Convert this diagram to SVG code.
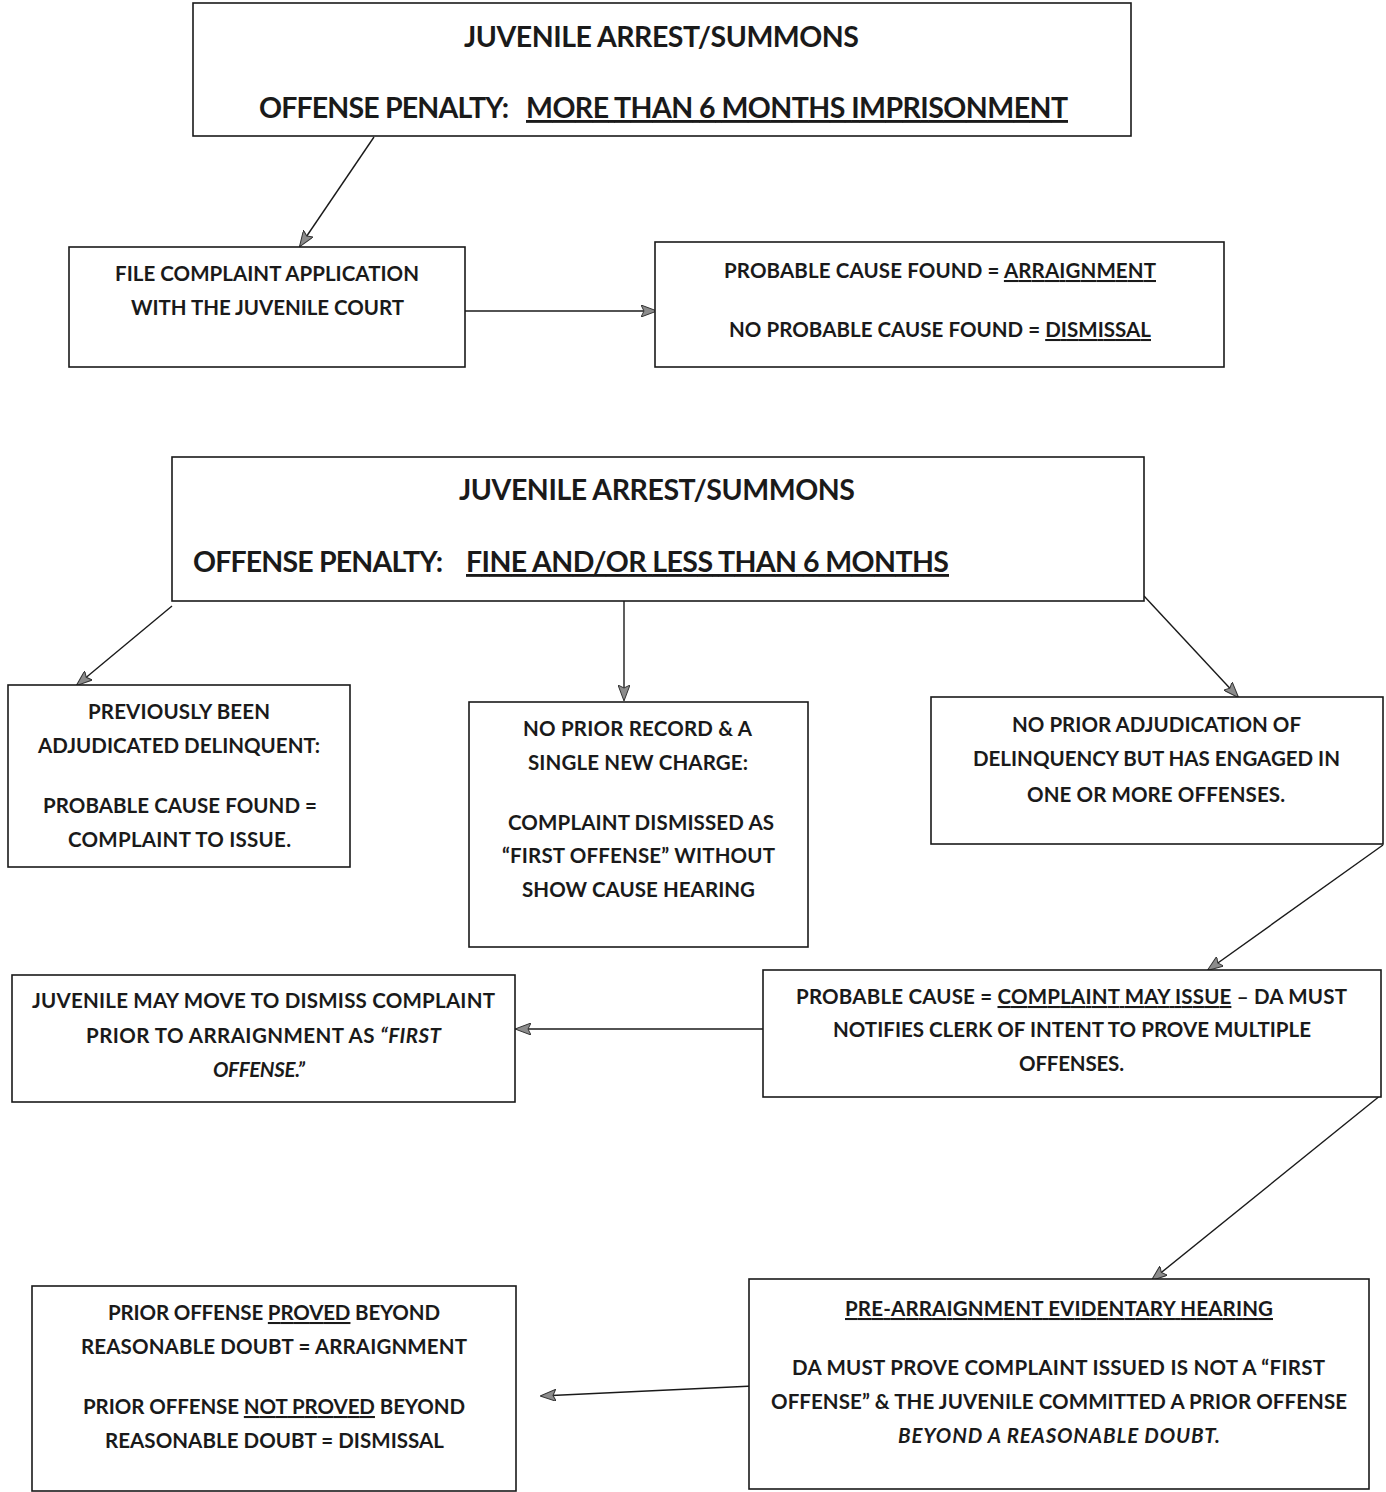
<svg xmlns="http://www.w3.org/2000/svg" width="1386" height="1492" viewBox="0 0 1386 1492">
<style>
.box{fill:#fff;stroke:#1a1a1a;stroke-width:1.6}
.t{font-family:Lato,"Open Sans","Liberation Sans",sans-serif;font-weight:700;fill:#1a1a1a;font-size:20.5px}
.big{font-size:28.5px}
.u{text-decoration:underline}
.i{font-style:italic}
.c{stroke:#1a1a1a;stroke-width:1.4;fill:none}
</style>
<defs>
<marker id="ah" viewBox="0 0 16 12" refX="15" refY="6" markerWidth="16" markerHeight="12" markerUnits="userSpaceOnUse" orient="auto">
<path d="M0,0 L16,6 L0,12 L3,6 Z" fill="#8c8c8c" stroke="#333" stroke-width="1"/>
</marker>
</defs>
<rect width="1386" height="1492" fill="#fff"/>
<g id="connectors">
<line class="c" x1="374" y1="137" x2="300" y2="246" marker-end="url(#ah)"/>
<line class="c" x1="465" y1="311" x2="656" y2="311" marker-end="url(#ah)"/>
<line class="c" x1="172" y1="606" x2="77" y2="685" marker-end="url(#ah)"/>
<line class="c" x1="624" y1="601" x2="624" y2="700" marker-end="url(#ah)"/>
<line class="c" x1="1144" y1="596" x2="1238" y2="697" marker-end="url(#ah)"/>
<line class="c" x1="1383" y1="845" x2="1208" y2="970" marker-end="url(#ah)"/>
<line class="c" x1="763" y1="1029" x2="516" y2="1029" marker-end="url(#ah)"/>
<line class="c" x1="1381" y1="1095" x2="1152" y2="1280" marker-end="url(#ah)"/>
<line class="c" x1="753" y1="1386" x2="541" y2="1396" marker-end="url(#ah)"/>
</g>
<g id="n1">
<rect class="box" x="193" y="3" width="938" height="133"/>
<text class="t big" x="464" y="47" textLength="395">JUVENILE ARREST/SUMMONS</text>
<text class="t big" x="259" y="118" textLength="250">OFFENSE PENALTY:</text>
<text class="t big u" x="526" y="118" textLength="542">MORE THAN 6 MONTHS IMPRISONMENT</text>
</g>
<g id="n2">
<rect class="box" x="69" y="247" width="396" height="120"/>
<text class="t" x="115" y="281" textLength="304">FILE COMPLAINT APPLICATION</text>
<text class="t" x="131" y="315" textLength="273">WITH THE JUVENILE COURT</text>
</g>
<g id="n3">
<rect class="box" x="655" y="242" width="569" height="125"/>
<text class="t" x="724" y="278" textLength="432">PROBABLE CAUSE FOUND = <tspan class="u">ARRAIGNMENT</tspan></text>
<text class="t" x="729" y="337" textLength="422">NO PROBABLE CAUSE FOUND = <tspan class="u">DISMISSAL</tspan></text>
</g>
<g id="n4">
<rect class="box" x="172" y="457" width="972" height="144"/>
<text class="t big" x="459" y="500" textLength="396">JUVENILE ARREST/SUMMONS</text>
<text class="t big" x="193" y="572" textLength="250">OFFENSE PENALTY:</text>
<text class="t big u" x="466" y="572" textLength="483">FINE AND/OR LESS THAN 6 MONTHS</text>
</g>
<g id="n5">
<rect class="box" x="8" y="685" width="342" height="182"/>
<text class="t" x="88" y="719" textLength="182">PREVIOUSLY BEEN</text>
<text class="t" x="38" y="753" textLength="282">ADJUDICATED DELINQUENT:</text>
<text class="t" x="43" y="813" textLength="274">PROBABLE CAUSE FOUND =</text>
<text class="t" x="68" y="847" textLength="223">COMPLAINT TO ISSUE.</text>
</g>
<g id="n6">
<rect class="box" x="469" y="702" width="339" height="245"/>
<text class="t" x="523" y="736" textLength="229">NO PRIOR RECORD &amp; A</text>
<text class="t" x="528" y="770" textLength="220">SINGLE NEW CHARGE:</text>
<text class="t" x="508" y="830" textLength="266">COMPLAINT DISMISSED AS</text>
<text class="t" x="502" y="863" textLength="273">“FIRST OFFENSE” WITHOUT</text>
<text class="t" x="522" y="897" textLength="233">SHOW CAUSE HEARING</text>
</g>
<g id="n7">
<rect class="box" x="931" y="697" width="452" height="147"/>
<text class="t" x="1012" y="732" textLength="289">NO PRIOR ADJUDICATION OF</text>
<text class="t" x="973" y="766" textLength="367">DELINQUENCY BUT HAS ENGAGED IN</text>
<text class="t" x="1027" y="802" textLength="258">ONE OR MORE OFFENSES.</text>
</g>
<g id="n8">
<rect class="box" x="763" y="970" width="618" height="127"/>
<text class="t" x="796" y="1004" textLength="551">PROBABLE CAUSE = <tspan class="u">COMPLAINT MAY ISSUE</tspan> – DA MUST</text>
<text class="t" x="833" y="1037" textLength="478">NOTIFIES CLERK OF INTENT TO PROVE MULTIPLE</text>
<text class="t" x="1019" y="1071" textLength="105">OFFENSES.</text>
</g>
<g id="n9">
<rect class="box" x="12" y="975" width="503" height="127"/>
<text class="t" x="32" y="1008" textLength="463">JUVENILE MAY MOVE TO DISMISS COMPLAINT</text>
<text class="t" x="86" y="1043" textLength="355">PRIOR TO ARRAIGNMENT AS <tspan class="i">“FIRST</tspan></text>
<text class="t i" x="213" y="1077" textLength="92">OFFENSE.”</text>
</g>
<g id="n10">
<rect class="box" x="749" y="1279" width="620" height="210"/>
<text class="t u" x="845" y="1316" textLength="428">PRE-ARRAIGNMENT EVIDENTARY HEARING</text>
<text class="t" x="792" y="1375" textLength="533">DA MUST PROVE COMPLAINT ISSUED IS NOT A “FIRST</text>
<text class="t" x="771" y="1409" textLength="576">OFFENSE” &amp; THE JUVENILE COMMITTED A PRIOR OFFENSE</text>
<text class="t i" x="898" y="1443" textLength="322">BEYOND A REASONABLE DOUBT.</text>
</g>
<g id="n11">
<rect class="box" x="32" y="1286" width="484" height="205"/>
<text class="t" x="108" y="1320" textLength="332">PRIOR OFFENSE <tspan class="u">PROVED</tspan> BEYOND</text>
<text class="t" x="81" y="1354" textLength="386">REASONABLE DOUBT = ARRAIGNMENT</text>
<text class="t" x="83" y="1414" textLength="382">PRIOR OFFENSE <tspan class="u">NOT PROVED</tspan> BEYOND</text>
<text class="t" x="105" y="1448" textLength="339">REASONABLE DOUBT = DISMISSAL</text>
</g>
</svg>
